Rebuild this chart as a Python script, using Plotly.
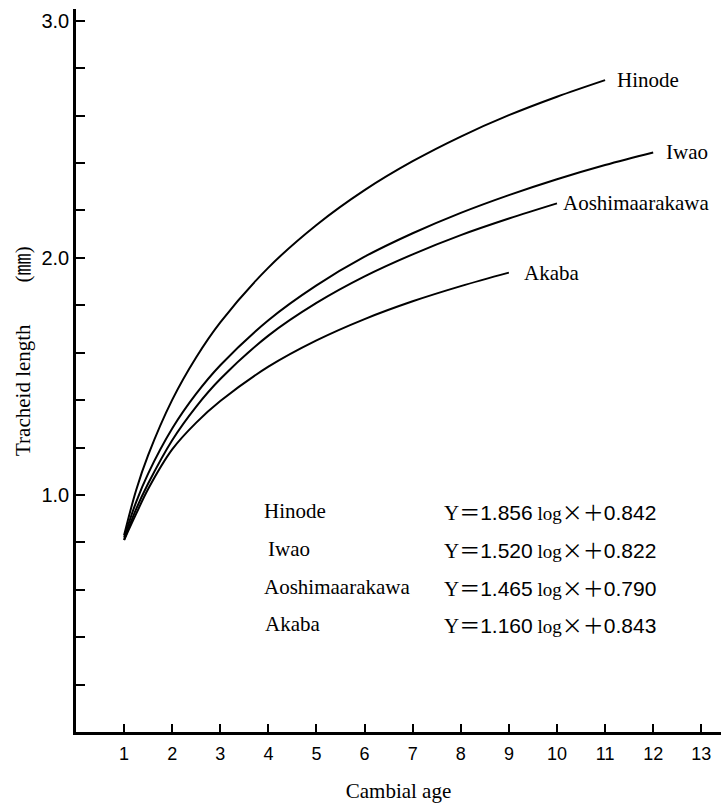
import plotly.graph_objects as go

# ---- data ----
ages_hinode = [1, 1.25, 1.5, 2, 2.5, 3, 4, 5, 6, 7, 8, 9, 10, 11]
len_hinode = [0.83, 1.02, 1.168, 1.401, 1.581, 1.728, 1.959, 2.139, 2.286, 2.408, 2.512, 2.602, 2.680, 2.750]

ages_iwao = [1, 1.25, 1.5, 2, 2.5, 3, 4, 5, 6, 7, 8, 9, 10, 11, 12]
len_iwao = [0.82, 0.97, 1.090, 1.280, 1.427, 1.547, 1.737, 1.884, 2.005, 2.104, 2.190, 2.265, 2.332, 2.392, 2.445]

ages_aoshima = [1, 1.25, 1.5, 2, 2.5, 3, 4, 5, 6, 7, 8, 9, 10]
len_aoshima = [0.81, 0.94, 1.048, 1.231, 1.373, 1.489, 1.672, 1.810, 1.922, 2.015, 2.096, 2.166, 2.230]

ages_akaba = [1, 1.25, 1.5, 2, 2.5, 3, 4, 5, 6, 7, 8, 9]
len_akaba = [0.81, 0.92, 1.025, 1.192, 1.305, 1.396, 1.541, 1.652, 1.742, 1.817, 1.881, 1.938]

series_names = ["Hinode", "Iwao", "Aoshimaarakawa", "Akaba"]
slopes = ["1.856", "1.520", "1.465", "1.160"]
intercepts = ["0.842", "0.822", "0.790", "0.843"]

x_ticks = list(range(1, 14))
y_major = [1.0, 2.0, 3.0]
y_major_labels = ["1.0", "2.0", "3.0"]

xs = [ages_hinode, ages_iwao, ages_aoshima, ages_akaba]
ys = [len_hinode, len_iwao, len_aoshima, len_akaba]

SERIF = "Liberation Serif, Times New Roman, serif"
SANS = "Liberation Sans, Arial, sans-serif"
CJK = "Noto Sans CJK JP"

fig = go.Figure()
for name, x, y in zip(series_names, xs, ys):
    fig.add_trace(go.Scatter(x=x, y=y, mode="lines", name=name,
                             line=dict(color="black", width=2, shape="spline", smoothing=1.0),
                             showlegend=False, hoverinfo="skip"))

# end-of-curve labels
label_shift = [10, 11, 4, 13]
for name, x, y, sh in zip(series_names, xs, ys, label_shift):
    fig.add_annotation(x=x[-1], y=y[-1], text=name, showarrow=False,
                       xanchor="left", yanchor="middle", xshift=sh,
                       font=dict(family=SERIF, size=21, color="black"))

# equation table
row_y = [511, 549, 587, 624]
name_x = [262, 266, 262, 263]
for nm, s, b, py, px in zip(series_names, slopes, intercepts, row_y, name_x):
    fig.add_annotation(xref="paper", yref="paper",
                       x=(px - 76) / 645, y=(732 - py) / 723,
                       text=nm, showarrow=False, xanchor="left", yanchor="middle",
                       font=dict(family=SERIF, size=21, color="black"))
    eq = (f"<span style='font-family:{SERIF}'>Y</span>"
          f"<span style='font-family:{CJK}'>＝</span>"
          f"<span style='font-family:{SANS}'>{s}</span>"
          f"<span style='font-family:{SERIF};font-size:19px'> log</span>"
          f"<span style='font-family:{CJK}'>×＋</span>"
          f"<span style='font-family:{SANS}'>{b}</span>")
    fig.add_annotation(xref="paper", yref="paper",
                       x=(442 - 76) / 645, y=(732 - py) / 723,
                       text=eq, showarrow=False, xanchor="left", yanchor="middle",
                       font=dict(family=SANS, size=21, color="black"))

# y-axis title (rotated)
fig.add_annotation(xref="paper", yref="paper", x=(20 - 76) / 645, y=(732 - 351) / 723,
                   text=f"Tracheid length<span style='font-family:{CJK}'>　　</span>(<span style='font-family:{CJK};font-size:22px'>㎜</span>)",
                   textangle=-90, showarrow=False, xanchor="center", yanchor="middle",
                   font=dict(family=SERIF, size=21, color="black"))

fig.update_xaxes(range=[0, 13.41], tickvals=x_ticks, ticktext=[str(v) for v in x_ticks],
                 showline=True, linecolor="black", linewidth=2.5,
                 ticks="inside", ticklen=8, tickwidth=2, tickcolor="black",
                 showgrid=False, zeroline=False, ticklabelstandoff=4,
                 tickfont=dict(family=SANS, size=18, color="black"),
                 title=dict(text="Cambial age", font=dict(family=SERIF, size=21, color="black"), standoff=20))
fig.update_yaxes(range=[0, 3.05], tickvals=y_major, ticktext=y_major_labels,
                 showline=True, linecolor="black", linewidth=2.5,
                 ticks="inside", ticklen=9, tickwidth=2, tickcolor="black",
                 minor=dict(dtick=0.2, tick0=0, ticks="inside", ticklen=9, tickwidth=2, tickcolor="black", showgrid=False),
                 showgrid=False, zeroline=False,
                 tickfont=dict(family=SANS, size=20, color="black"))

fig.update_layout(width=721, height=803, margin=dict(l=76, r=0, t=9, b=71),
                  plot_bgcolor="white", paper_bgcolor="white")

fig.write_html("out.html")
